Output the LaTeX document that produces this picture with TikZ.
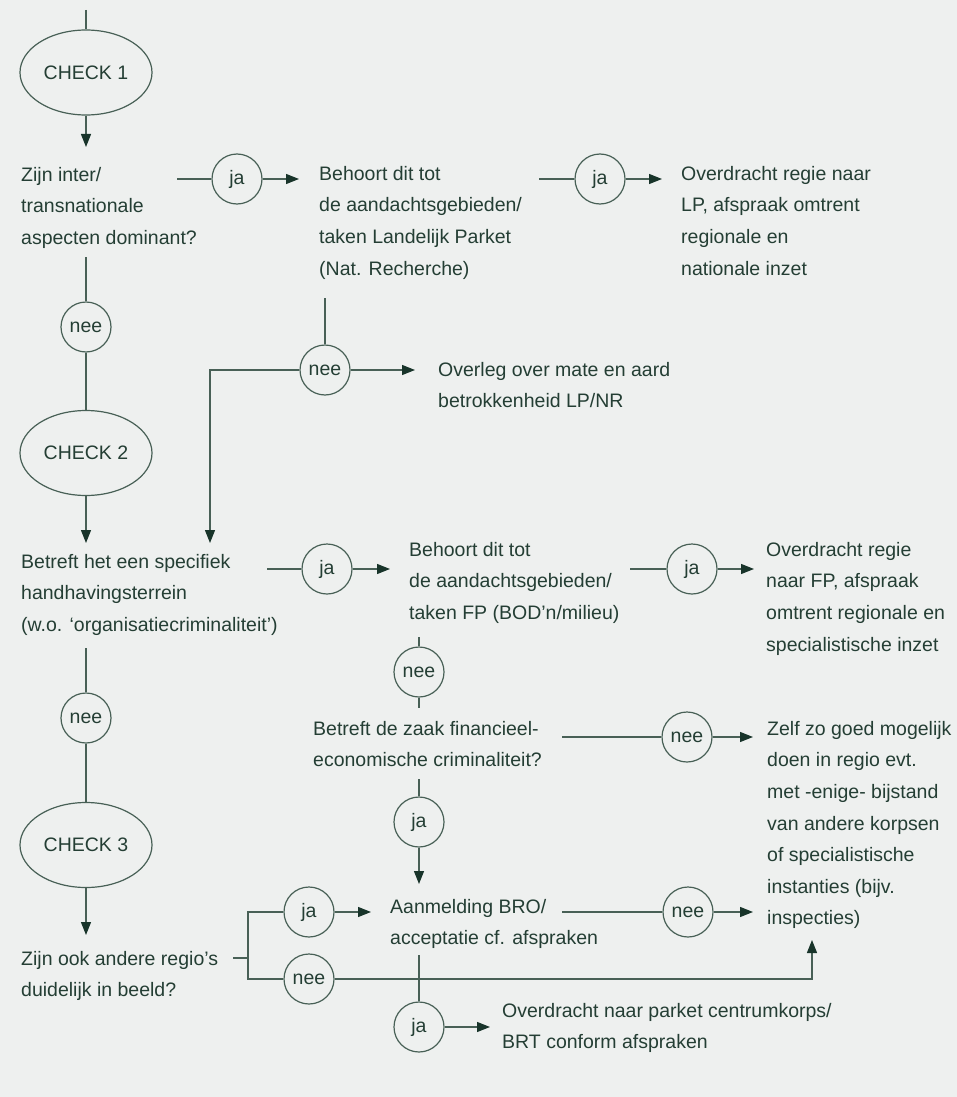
\documentclass[tikz,border=0pt]{standalone}
\usepackage{fontspec}
\setmainfont{Liberation Sans}
\usetikzlibrary{shapes.geometric,arrows.meta}
\definecolor{bg}{RGB}{238,240,239}
\definecolor{tc}{RGB}{36,62,52}
\definecolor{lc}{RGB}{72,96,86}
\definecolor{ac}{RGB}{24,52,42}
\newcommand{\dfont}{\fontsize{19.5}{31.6}\selectfont}
\newcommand{\mystrut}{\rule{0pt}{16pt}}
\begin{document}
\begin{tikzpicture}[x=1pt,y=-1pt,
  ln/.style={draw=lc,line width=1.2pt},
  arr/.style={ln,-{Triangle[length=13pt,width=10pt,fill=ac,color=ac]}},
  circ/.style={circle,draw=lc,line width=1.2pt,minimum size=50pt,inner sep=0pt,font=\dfont,text=tc},
  ell/.style={ellipse,draw=lc,line width=1.2pt,minimum width=132pt,minimum height=85pt,inner sep=0pt,font=\dfont,text=tc},
  txt/.style={anchor=north west,inner sep=0pt,align=left,font=\dfont,text=tc}]
\fill[bg] (0,0) rectangle (957,1097);
\useasboundingbox (0,0) rectangle (957,1097);

% ellipses
\node[ell] (c1) at (86,72.5) {CHECK 1};
\node[ell] (c2) at (86,453) {CHECK 2};
\node[ell] (c3) at (86,845) {CHECK 3};

% text blocks (y = first baseline - 16)
\node[txt] (q1) at (21,165) {\mystrut Zijn inter/\\transnationale\\aspecten dominant?};
\node[txt] (q2) at (319,164) {\mystrut Behoort dit tot\\de aandachtsgebieden/\\taken Landelijk Parket\\(Nat. Recherche)};
\node[txt] (r1) at (681,164) {\mystrut Overdracht regie naar\\LP, afspraak omtrent\\regionale en\\nationale inzet};
\node[txt] (r2) at (438,360) {\mystrut Overleg over mate en aard\\betrokkenheid LP/NR};
\node[txt] (q3) at (21,552) {\mystrut Betreft het een specifiek\\handhavingsterrein\\(w.o. ‘organisatiecriminaliteit’)};
\node[txt] (q4) at (409,540) {\mystrut Behoort dit tot\\de aandachtsgebieden/\\taken FP (BOD’n/milieu)};
\node[txt] (r3) at (766,540) {\mystrut Overdracht regie\\naar FP, afspraak\\omtrent regionale en\\specialistische inzet};
\node[txt] (q5) at (313,719) {\mystrut Betreft de zaak financieel-\\economische criminaliteit?};
\node[txt] (r4) at (767,719) {\mystrut Zelf zo goed mogelijk\\doen in regio evt.\\met -enige- bijstand\\van andere korpsen\\of specialistische\\instanties (bijv.\\inspecties)};
\node[txt] (q6) at (21,949) {\mystrut Zijn ook andere regio’s\\duidelijk in beeld?};
\node[txt] (q7) at (390,897) {\mystrut Aanmelding BRO/\\acceptatie cf. afspraken};
\node[txt] (r5) at (502,1001) {\mystrut Overdracht naar parket centrumkorps/\\BRT conform afspraken};

% decision circles
\node[circ] (j1) at (237,179) {ja};
\node[circ] (j2) at (600,179) {ja};
\node[circ] (n1) at (86,327) {nee};
\node[circ] (n2) at (325,370) {nee};
\node[circ] (j3) at (327,569) {ja};
\node[circ] (j4) at (692,569) {ja};
\node[circ] (n3) at (86,718) {nee};
\node[circ] (n4) at (419,672) {nee};
\node[circ] (n5) at (687,737) {nee};
\node[circ] (j5) at (419,822) {ja};
\node[circ] (j6) at (309,912) {ja};
\node[circ] (n6) at (309,979) {nee};
\node[circ] (n7) at (688,912) {nee};
\node[circ] (j7) at (419,1027) {ja};

% free ends
\coordinate (t0) at (86,10);
\coordinate (a1) at (86,147);
\coordinate (s1) at (177,179);
\coordinate (e1) at (299,179);
\coordinate (s2) at (539,179);
\coordinate (e2) at (662,179);
\coordinate (s3) at (86,257);
\coordinate (a2) at (86,543);
\coordinate (s4) at (325,298);
\coordinate (b1) at (210,370);
\coordinate (e4) at (210,543);
\coordinate (e5) at (415,370);
\coordinate (s6) at (267,569);
\coordinate (e6) at (390,569);
\coordinate (s7) at (630,569);
\coordinate (e7) at (754,569);
\coordinate (s8) at (86,648);
\coordinate (a3) at (86,935);
\coordinate (s9) at (419,637);
\coordinate (e9) at (419,708);
\coordinate (s10) at (562,737);
\coordinate (e10) at (753,737);
\coordinate (s11) at (419,779);
\coordinate (e11) at (419,884);
\coordinate (k0) at (233,958);
\coordinate (k1) at (248,958);
\coordinate (k2) at (248,912);
\coordinate (k3) at (248,979);
\coordinate (e12) at (371,912);
\coordinate (k4) at (812,979);
\coordinate (e13) at (812,940);
\coordinate (s14) at (562,912);
\coordinate (e14) at (753,912);
\coordinate (s15) at (419,955);
\coordinate (e15) at (490,1027);

% connectors
\draw[ln] (t0) -- (c1);
\draw[arr] (c1) -- (a1);
\draw[ln] (s1) -- (j1);
\draw[arr] (j1) -- (e1);
\draw[ln] (s2) -- (j2);
\draw[arr] (j2) -- (e2);
\draw[ln] (s3) -- (n1) -- (c2);
\draw[arr] (c2) -- (a2);
\draw[ln] (s4) -- (n2);
\draw[arr] (n2) -- (b1) -- (e4);
\draw[arr] (n2) -- (e5);
\draw[ln] (s6) -- (j3);
\draw[arr] (j3) -- (e6);
\draw[ln] (s7) -- (j4);
\draw[arr] (j4) -- (e7);
\draw[ln] (s8) -- (n3) -- (c3);
\draw[arr] (c3) -- (a3);
\draw[ln] (s9) -- (n4) -- (e9);
\draw[ln] (s10) -- (n5);
\draw[arr] (n5) -- (e10);
\draw[ln] (s11) -- (j5);
\draw[arr] (j5) -- (e11);
\draw[ln] (k0) -- (k1);
\draw[ln] (j6) -- (k2) -- (k3) -- (n6);
\draw[arr] (j6) -- (e12);
\draw[arr] (n6) -- (k4) -- (e13);
\draw[ln] (s14) -- (n7);
\draw[arr] (n7) -- (e14);
\draw[ln] (s15) -- (j7);
\draw[arr] (j7) -- (e15);
\end{tikzpicture}
\end{document}
